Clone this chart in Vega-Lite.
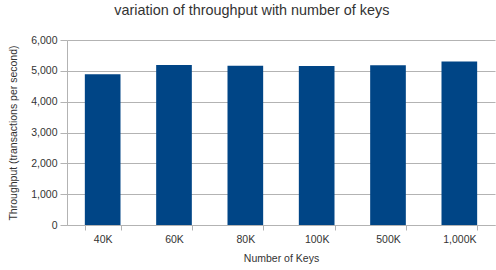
{
  "$schema": "https://vega.github.io/schema/vega-lite/v6.json",
  "width": 428,
  "height": 185,
  "autosize": {"type": "none"},
  "padding": {"left": 67, "top": 40, "right": 1, "bottom": 45},
  "background": "white",
  "title": {
    "text": "variation of throughput with number of keys",
    "font": "Liberation Sans",
    "fontSize": 14.4,
    "fontWeight": "normal",
    "color": "#333333",
    "anchor": "middle",
    "frame": "bounds",
    "offset": 17
  },
  "data": {
    "values": [
      {"keys": "40K", "throughput": 4890},
      {"keys": "60K", "throughput": 5190},
      {"keys": "80K", "throughput": 5165},
      {"keys": "100K", "throughput": 5155},
      {"keys": "500K", "throughput": 5185},
      {"keys": "1,000K", "throughput": 5300}
    ]
  },
  "mark": {"type": "bar", "color": "#004586"},
  "encoding": {
    "x": {
      "field": "keys",
      "type": "nominal",
      "sort": null,
      "scale": {"paddingInner": 0.5, "paddingOuter": 0.25},
      "axis": {
        "title": "Number of Keys",
        "labelAngle": 0,
        "tickBand": "extent",
        "tickSize": 5,
        "tickColor": "#b3b3b3",
        "domainColor": "#b3b3b3",
        "grid": false,
        "labelFont": "Liberation Sans",
        "labelFontSize": 10.5,
        "labelColor": "#333333",
        "labelPadding": 4,
        "titleFont": "Liberation Sans",
        "titleFontSize": 10.5,
        "titleFontWeight": "normal",
        "titleColor": "#333333",
        "titlePadding": 9
      }
    },
    "y": {
      "field": "throughput",
      "type": "quantitative",
      "scale": {"domain": [0, 6000], "nice": false},
      "axis": {
        "title": "Throughput (transactions per second)",
        "values": [0, 1000, 2000, 3000, 4000, 5000, 6000],
        "format": ",d",
        "tickSize": 7,
        "tickColor": "#b3b3b3",
        "domainColor": "#b3b3b3",
        "gridColor": "#b3b3b3",
        "labelFont": "Liberation Sans",
        "labelFontSize": 10.5,
        "labelColor": "#333333",
        "labelPadding": 3,
        "titleFont": "Liberation Sans",
        "titleFontSize": 10.5,
        "titleFontWeight": "normal",
        "titleColor": "#333333",
        "titlePadding": 12
      }
    }
  },
  "config": {"view": {"stroke": null}}
}
